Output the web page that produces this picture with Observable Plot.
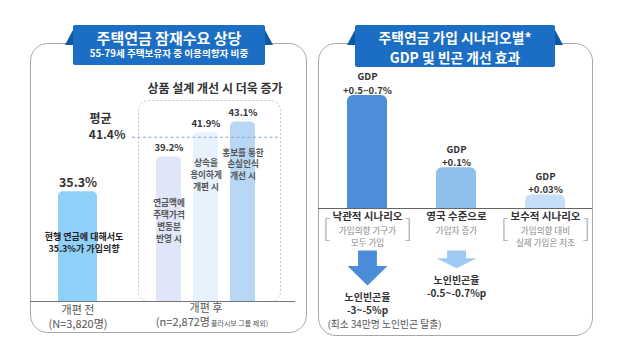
<!DOCTYPE html>
<html><head><meta charset="utf-8">
<script src="https://cdn.jsdelivr.net/npm/d3@7"></script>
<script src="https://cdn.jsdelivr.net/npm/@observablehq/plot@0.6"></script>
<style>
body{margin:0;background:#fff;font-family:"Noto Sans CJK KR",sans-serif;}
#stage{position:relative;width:630px;height:360px;overflow:hidden;background:#fff;}
.panel{position:absolute;border:1.5px solid #a8a8a8;border-radius:18px;box-sizing:border-box;}
.banner{position:absolute;background:#1b6ec3;color:#fff;text-align:center;font-weight:700;border-radius:2px;}
.ear{position:absolute;background:#0f58a3;}
.abs{position:absolute;}
.abs svg{max-width:none !important;}
.t{position:absolute;white-space:nowrap;text-align:center;}
</style></head>
<body><div id="stage"></div>
<script>
// ---------- data: left panel ----------
const beforeCategories = ["개편 전"];
const beforeNotes = ["(N=3,820명)"];
const beforeValues = [35.3];
const beforeInnerTexts = ["현행 연금에 대해서도\n35.3%가 가입의향"];
const afterCategories = ["연금액에\n주택가격\n변동분\n반영 시", "상속을\n용이하게\n개편 시", "홍보를 통한\n손실인식\n개선 시"];
const afterValues = [39.2, 41.9, 43.1];
const averageValue = 41.4;
const averageLabel = "평균";
const afterGroupLabel = "개편 후";
const afterGroupNote = "(n=2,872명";
const afterGroupNoteSmall = "플라시보 그룹 제외)";
const leftTitle = "주택연금 잠재수요 상당";
const leftSubtitle = "55-79세 주택보유자 중 이용의향자 비중";
const leftHeadline = "상품 설계 개선 시 더욱 증가";

// ---------- data: right panel ----------
const rightTitle1 = "주택연금 가입 시나리오별*";
const rightTitle2 = "GDP 및 빈곤 개선 효과";
const scenarios = ["낙관적 시나리오", "영국 수준으로", "보수적 시나리오"];
const scenarioNotes = ["가입의향 가구가\n모두 가입", "가입자 증가", "가입의향 대비\n실제 가입은 저조"];
const scenarioBracketed = [true, false, true];
const gdpLabels = ["GDP\n+0.5~0.7%", "GDP\n+0.1%", "GDP\n+0.03%"];
const gdpBarIndex = [100, 36, 12];          // relative bar heights
const povertyScenarios = ["낙관적 시나리오", "영국 수준으로"];
const povertyLabels = ["노인빈곤율\n-3~-5%p", "노인빈곤율\n-0.5~-0.7%p"];
const povertyArrowIndex = [100, 51];       // relative arrow lengths
const povertyNote = "(최소 34만명 노인빈곤 탈출)";

// ---------- styles ----------
const beforeColor = "#8fd0f8";
const afterColors = ["#e0e6f8", "#e8f2fc", "#b8d7f4"];
const gdpColors = ["#4d8ed8", "#8fbfeb", "#c6dff6"];
const arrowColors = ["#4a8cd8", "#9ccaf0", "#cfe3f6"];
const FONT = "'Noto Sans CJK KR', sans-serif";
const baseStyle = {fontFamily: FONT, background: "transparent", overflow: "visible"};
const yFloor = 23, yTop = 50;

const stage = document.getElementById("stage");
function box(cls, l, t, w, h, extra) {
  const d = document.createElement("div"); d.className = cls;
  Object.assign(d.style, {left: l + "px", top: t + "px", width: w + "px", height: h + "px"}, extra || {});
  stage.appendChild(d); return d;
}
function txt(s, l, t, w, css) {
  const d = document.createElement("div"); d.className = "t"; d.textContent = s;
  Object.assign(d.style, {left: l + "px", top: t + "px", width: w + "px"}, css);
  stage.appendChild(d); return d;
}
function place(el, l, t, w, h) { const wr = box("abs", l, t, w, h); wr.appendChild(el); }

// ---------- frames and banners ----------
box("panel", 30, 43, 277, 290);
box("panel", 318, 43, 275, 293);
box("ear", 65, 28, 9, 17, {clipPath: "polygon(100% 0,100% 100%,0 100%)"});
box("ear", 264, 28, 9, 17, {clipPath: "polygon(0 0,100% 100%,0 100%)"});
box("banner", 73, 25, 192, 40);
txt(leftTitle, 73, 28, 192, {color: "#fff", fontWeight: 700, fontSize: "15px", lineHeight: "20px"});
txt(leftSubtitle, 73, 47, 192, {color: "#fff", fontWeight: 700, fontSize: "9.6px", lineHeight: "13px"});
box("ear", 347, 28, 9, 17, {clipPath: "polygon(100% 0,100% 100%,0 100%)"});
box("ear", 554, 28, 9, 17, {clipPath: "polygon(0 0,100% 100%,0 100%)"});
box("banner", 355, 25, 200, 42);
txt(rightTitle1, 355, 27, 200, {color: "#fff", fontWeight: 700, fontSize: "13.8px", lineHeight: "20px"});
txt(rightTitle2, 355, 47, 200, {color: "#fff", fontWeight: 700, fontSize: "13.8px", lineHeight: "20px"});
txt(leftHeadline, 135, 79, 160, {color: "#333", fontWeight: 700, fontSize: "12px", lineHeight: "18px"});

// ---------- left: before ----------
const beforeData = beforeCategories.map((c, i) => ({category: c, value: beforeValues[i], note: beforeNotes[i], inner: beforeInnerTexts[i]}));
const plotBefore = Plot.plot({
  width: 100, height: 272, marginTop: 0, marginRight: 0, marginLeft: 0, marginBottom: 31,
  style: baseStyle,
  x: {type: "band", domain: beforeCategories, range: [28, 67], padding: 0, axis: null},
  y: {domain: [yFloor, yTop], axis: null},
  marks: [
    Plot.barY(beforeData, {x: "category", y1: yFloor - 2, y2: "value", fill: beforeColor, rx: 5, clip: true}),
    Plot.text(beforeData, {x: "category", y: "value", text: d => d.value.toFixed(1) + "%", dy: -9, fontSize: 12.5, fontWeight: 700, fill: "#333"}),
    Plot.text(beforeData, {x: "category", y: "value", text: "inner", lineAnchor: "top", dy: 40, dx: 6, fontSize: 9, fontWeight: 700, fill: "#222", lineHeight: 1.35}),
    Plot.text([averageValue], {y: d => d, text: d => d.toFixed(1) + "%", frameAnchor: "right", textAnchor: "end", dx: -5, dy: -2, fontSize: 12, fontWeight: 700, fill: "#333"}),
    Plot.text([averageValue], {y: d => d, text: () => averageLabel, frameAnchor: "right", textAnchor: "end", dx: -19, dy: -18, fontSize: 12, fontWeight: 700, fill: "#333"}),
    Plot.text(beforeData, {x: "category", text: d => d.category + "\n" + d.note, frameAnchor: "bottom", lineAnchor: "top", dy: 3, fontSize: 11, fill: "#555", lineHeight: 1.25}),
    Plot.ruleY([yFloor], {stroke: "#777", strokeWidth: 1.2})
  ]
});
place(plotBefore, 30, 60, 100, 272);

// ---------- left: after ----------
const afterData = afterCategories.map((c, i) => ({category: c, value: afterValues[i], i}));
const groupData = [{category: afterCategories[1]}];
const plotAfter = Plot.plot({
  width: 165, height: 272, marginTop: 0, marginRight: 0, marginLeft: 0, marginBottom: 31,
  style: baseStyle,
  x: {type: "band", domain: afterCategories, range: [26, 125.5], paddingInner: 0.33, paddingOuter: 0, axis: null},
  y: {domain: [yFloor, yTop], axis: null},
  color: {domain: afterCategories, range: afterColors},
  marks: [
    Plot.frame({stroke: "#c4c4c4", strokeDasharray: "2,2", rx: 10, insetLeft: 8, insetRight: 15, insetTop: 40}),
    Plot.barY(afterData, {x: "category", y1: yFloor - 2, y2: "value", fill: "category", rx: 5, clip: true}),
    Plot.ruleY([averageValue], {stroke: "#8aa6cf", strokeDasharray: "3,2.5", insetLeft: 2, insetRight: 17}),
    Plot.text(afterData, {x: "category", y: "value", text: d => d.value.toFixed(1) + "%", dy: -9, fontSize: 9.5, fontWeight: 700, fill: "#333"}),
    Plot.text(afterData.filter(d => d.i === 0), {x: "category", y: "value", text: "category", lineAnchor: "top", dy: 41, fontSize: 8.6, fontWeight: 700, fill: "#555", lineHeight: 1.38}),
    Plot.text(afterData.filter(d => d.i > 0), {x: "category", y: "value", text: "category", lineAnchor: "top", dy: 25, fontSize: 8.6, fontWeight: 700, fill: "#555", lineHeight: 1.38}),
    Plot.text(groupData, {x: "category", text: () => afterGroupLabel, frameAnchor: "bottom", dy: 10, fontSize: 11, fill: "#555"}),
    Plot.text(groupData, {x: "category", text: () => afterGroupNote, frameAnchor: "bottom", textAnchor: "end", dx: 4, dy: 24, fontSize: 11, fill: "#555"}),
    Plot.text(groupData, {x: "category", text: () => afterGroupNoteSmall, frameAnchor: "bottom", textAnchor: "start", dx: 5, dy: 24.5, fontSize: 7, fill: "#555"}),
    Plot.ruleY([yFloor], {stroke: "#777", strokeWidth: 1.2})
  ]
});
place(plotAfter, 130, 60, 165, 272);

// ---------- right: GDP bars ----------
const gdpData = scenarios.map((s, i) => ({scenario: s, value: gdpBarIndex[i], label: gdpLabels[i], note: scenarioNotes[i], bracketed: scenarioBracketed[i]}));
const xRight = () => ({type: "band", domain: scenarios, range: [28, 247], paddingInner: 0.553, paddingOuter: 0, axis: null});
const plotGdp = Plot.plot({
  width: 274, height: 180, marginTop: 25, marginRight: 0, marginLeft: 0, marginBottom: 42,
  style: baseStyle,
  x: xRight(),
  y: {domain: [0, 100], axis: null},
  color: {domain: scenarios, range: gdpColors},
  marks: [
    Plot.barY(gdpData, {x: "scenario", y1: -10, y2: "value", fill: "scenario", rx: 6, clip: true}),
    Plot.text(gdpData, {x: "scenario", y: "value", text: "label", lineAnchor: "bottom", dy: -2, fontSize: 9.5, fontWeight: 700, fill: "#333", lineHeight: 1.4}),
    Plot.ruleY([0], {stroke: "#666", strokeWidth: 1.2}),
    Plot.text(gdpData, {x: "scenario", text: "scenario", frameAnchor: "bottom", dy: 11, fontSize: 10.5, fontWeight: 700, fill: "#333"}),
    Plot.text(gdpData, {x: "scenario", text: "note", frameAnchor: "bottom", lineAnchor: "top", dy: 17, fontSize: 8.6, fill: "#8a8a8a", lineHeight: 1.4}),
    Plot.text(gdpData.filter(d => d.bracketed), {x: "scenario", text: () => "[", frameAnchor: "bottom", dy: 28, dx: -41, fontSize: 24, fontWeight: 300, fill: "#aaa"}),
    Plot.text(gdpData.filter(d => d.bracketed), {x: "scenario", text: () => "]", frameAnchor: "bottom", dy: 28, dx: 41, fontSize: 24, fontWeight: 300, fill: "#aaa"})
  ]
});
place(plotGdp, 318, 70, 274, 180);

// ---------- right: poverty arrows ----------
const blockArrow = {
  draw(context, l, r) {
    const sw = r * 0.47, head = l * 0.56;
    context.moveTo(-sw, 0);
    context.lineTo(-sw, -(l - head));
    context.lineTo(-r, -(l - head));
    context.lineTo(0, -l);
    context.lineTo(r, -(l - head));
    context.lineTo(sw, -(l - head));
    context.lineTo(sw, 0);
    context.closePath();
  }
};
const povData = povertyScenarios.map((s, i) => ({scenario: s, arrow: povertyArrowIndex[i], label: povertyLabels[i]}));
const plotPov = Plot.plot({
  width: 274, height: 90, marginTop: 5, marginRight: 0, marginLeft: 0, marginBottom: 50,
  style: baseStyle,
  x: xRight(),
  y: {domain: [0, 100], reverse: true, axis: null},
  length: {domain: [0, 100], range: [0, 35]},
  color: {domain: scenarios, range: arrowColors},
  marks: [
    Plot.vector(povData, {x: "scenario", y: "arrow", length: "arrow", rotate: 180, anchor: "end", shape: blockArrow, r: 20, fill: "scenario", stroke: "none"}),
    Plot.text(povData, {x: "scenario", y: "arrow", text: "label", lineAnchor: "top", dy: 6, fontSize: 10, fontWeight: 700, fill: "#333", lineHeight: 1.3}),
    Plot.text(povData.slice(0, 1), {x: "scenario", y: "arrow", text: () => povertyNote, dy: 39, dx: 17, fontSize: 9.8, fill: "#555"})
  ]
});
place(plotPov, 318, 245, 274, 90);
</script>
</body></html>
